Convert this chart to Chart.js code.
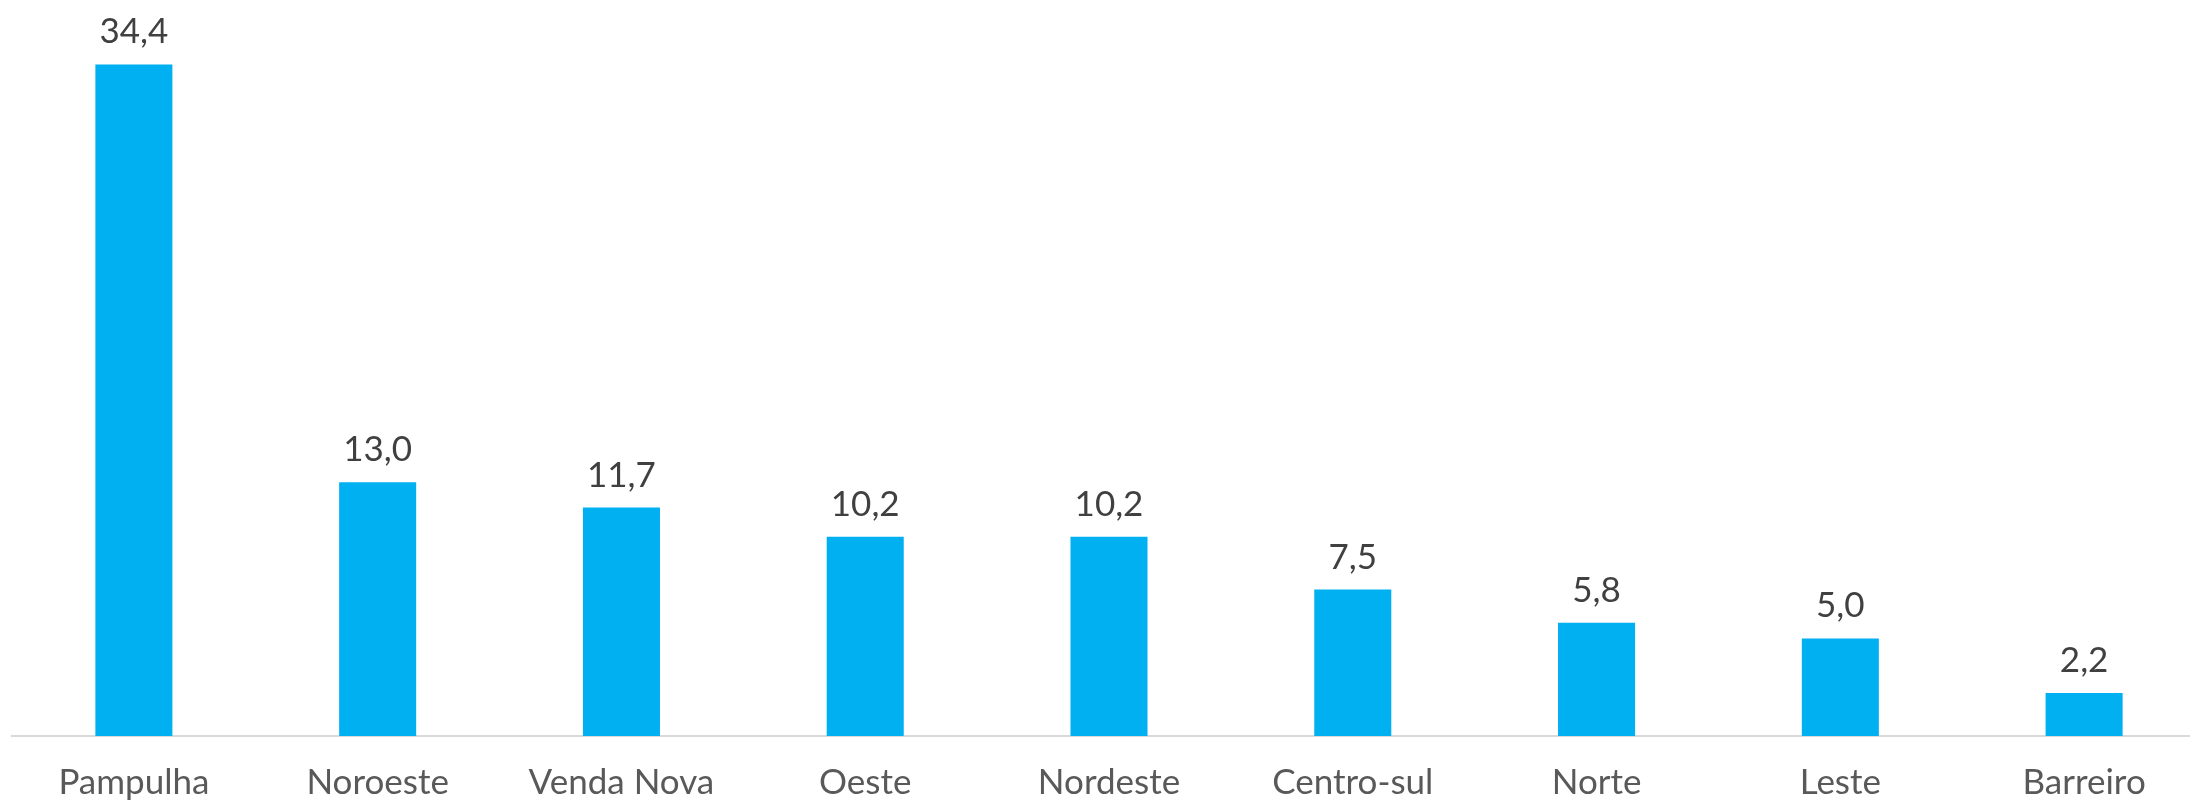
<!DOCTYPE html>
<html>
<head>
<meta charset="utf-8">
<script src="https://cdn.jsdelivr.net/npm/chart.js@4/dist/chart.umd.min.js"></script>
<style>
    html, body { margin: 0; padding: 0; background: #fff; overflow: hidden; }
    #wrap { width: 2190px; height: 802px; overflow: hidden; }
</style>
</head>
<body>
<div id="wrap"><canvas id="chart" width="2206" height="802"></canvas></div>
<script>
// dados por regional
const regionais = ['Pampulha', 'Noroeste', 'Venda Nova', 'Oeste', 'Nordeste', 'Centro-sul', 'Norte', 'Leste', 'Barreiro'];
const valores = [34.4, 13.0, 11.7, 10.2, 10.2, 7.5, 5.8, 5.0, 2.2];

const BAR_COLOR = '#00b0f0';
const FONT_FAMILY = 'Lato, "Noto Sans", sans-serif';

// rótulos de valor acima das barras (formato pt-BR)
const valueLabels = {
    id: 'valueLabels',
    afterDatasetsDraw(chart) {
        const ctx = chart.ctx;
        const meta = chart.getDatasetMeta(0);
        ctx.save();
        ctx.font = `35px ${FONT_FAMILY}`;
        ctx.fillStyle = '#404040';
        ctx.textAlign = 'center';
        ctx.textBaseline = 'alphabetic';
        meta.data.forEach((bar, i) => {
            const txt = valores[i].toFixed(1).replace('.', ',');
            ctx.fillText(txt, bar.x, bar.y - 21);
        });
        ctx.restore();
    }
};

new Chart(document.getElementById('chart'), {
    type: 'bar',
    data: {
        labels: regionais,
        datasets: [{
            data: valores,
            backgroundColor: BAR_COLOR,
            barPercentage: 0.632,
            categoryPercentage: 0.5
        }]
    },
    options: {
        responsive: false,
        animation: false,
        devicePixelRatio: 1,
        layout: { padding: { left: 12, right: 0, top: 0, bottom: -20 } },
        scales: {
            x: {
                grid: { display: false },
                border: { display: true, color: '#d9d9d9', width: 2 },
                ticks: {
                    color: '#595959',
                    font: { family: FONT_FAMILY, size: 35 },
                    padding: 18,
                    maxRotation: 0
                }
            },
            y: {
                display: false,
                min: 0,
                max: 37.7
            }
        },
        plugins: {
            legend: { display: false },
            tooltip: { enabled: false }
        }
    },
    plugins: [valueLabels]
});
</script>
</body>
</html>
